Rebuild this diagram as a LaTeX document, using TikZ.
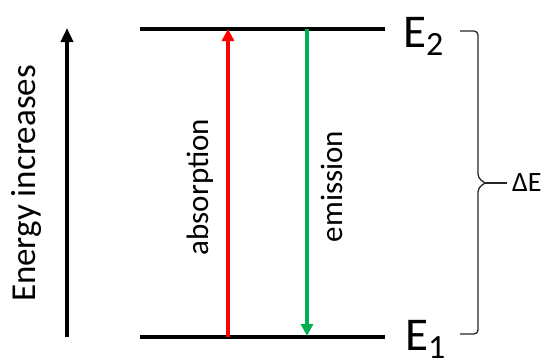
\documentclass[tikz,border=0pt]{standalone}
\usepackage{fontspec}
\setmainfont{Carlito}
\usetikzlibrary{arrows.meta, positioning, calc}
\definecolor{absred}{RGB}{255,0,0}
\definecolor{emigreen}{RGB}{0,176,80}

\begin{document}
\begin{tikzpicture}[
  x=1pt, y=-1pt,
  level/.style={line width=4pt},
  absorb/.style={draw=absred, line width=3.5pt, -{Triangle[length=12pt,width=12pt]}},
  emit/.style={draw=emigreen, line width=3.5pt, -{Triangle[length=12pt,width=12pt]}},
  axisarr/.style={line width=3.5pt, -{Triangle[length=14pt,width=12pt]}},
  brace/.style={line width=1.3pt, draw=black!85, rounded corners=4pt},
  lbl/.style={inner sep=0pt, font=\fontsize{31}{31}\selectfont}
]
\useasboundingbox (0,0) rectangle (547,364);

% Levels
\coordinate (up-l) at (140,29);
\coordinate (up-r) at (385,29);
\coordinate (lo-l) at (140,337);
\coordinate (lo-r) at (385,337);
\draw[level] (up-l) -- (up-r);
\draw[level] (lo-l) -- (lo-r);
\node[anchor=base west, inner sep=0pt, font=\fontsize{47}{47}\selectfont] (E2) at (403,47)
  {E\raisebox{-8pt}{\fontsize{34}{34}\selectfont 2}};
\node[anchor=base west, inner sep=0pt, font=\fontsize{47}{47}\selectfont] (E1) at (405,350)
  {E\raisebox{-8pt}{\fontsize{34}{34}\selectfont 1}};

% Transitions
\coordinate (ab-lo) at (228,337);
\coordinate (ab-up) at (228,29);
\coordinate (em-up) at (307,29);
\coordinate (em-lo) at (307,336);
\draw[absorb] (ab-lo) -- (ab-up);
\draw[emit]   (em-up) -- (em-lo);
\node[lbl, rotate=90, anchor=base] (abs) at (208,187) {absorption};
\node[lbl, rotate=90, anchor=base] (emi) at (342,186.5) {emission};

% Energy axis
\coordinate (ax-lo) at (67,337);
\coordinate (ax-up) at (67,28);
\draw[axisarr] (ax-lo) -- (ax-up);
\node[rotate=90, anchor=base, inner sep=0pt, font=\fontsize{35}{35}\selectfont] (eninc) at (35,183.5) {Energy increases};

% Brace
\coordinate (br-tip) at (485,183);
\draw[brace] (460,31) -- (478,31) -- (478,178) -- (br-tip);
\draw[brace] (br-tip) -- (478,188) -- (478,334) -- (460,334);
\node[anchor=west, inner xsep=5pt, inner ysep=0pt, font=\fontsize{28}{28}\selectfont] (dE) at (507,183) {ΔE};
\draw[brace] (br-tip) -- (dE.west);

\end{tikzpicture}
\end{document}
